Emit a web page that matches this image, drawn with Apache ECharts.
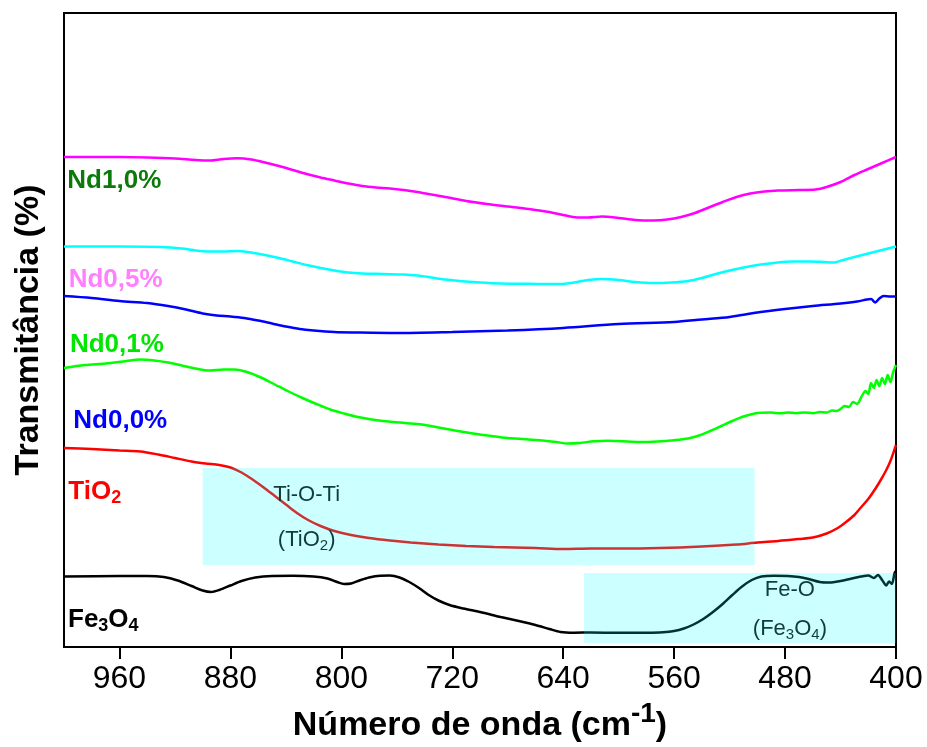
<!DOCTYPE html>
<html>
<head>
<meta charset="utf-8">
<script src="https://cdn.jsdelivr.net/npm/echarts@6/dist/echarts.min.js"></script>
<style>html,body{margin:0;padding:0;background:#fff}#c{width:927px;height:747px}</style>
</head>
<body>
<div id="c"></div>
<script>
// x tick labels (wavenumber, cm-1)
const xTicks = [400, 480, 560, 640, 720, 800, 880, 960];

// Spectra: [wavenumber, transmittance (arbitrary, offset)]
const nd10 = [[1000,490],[980,490],[960,490],[940,489.5],[920,488.5],[905,487],[895,486.5],[885,488],[875,488.7],[865,487.5],[855,484.5],[845,481],[835,477],[825,473],[815,469.5],[805,466.5],[795,463.5],[785,461],[775,459.5],[765,458.5],[755,457],[745,455],[735,452.5],[725,450],[710,446],[695,443],[680,440.5],[665,438],[650,435],[640,432],[630,429.5],[622,429.5],[612,430.5],[600,429],[588,427],[575,426.5],[565,427.5],[555,430],[545,434],[535,439.5],[525,445],[515,450],[505,453.5],[495,455.5],[485,456.5],[470,457],[458,457.5],[450,460],[440,465],[430,472],[420,478],[410,484],[400,490]];
const nd05 = [[1000,400.5],[960,400.5],[930,400],[915,398.5],[905,396.5],[895,395.5],[885,395.5],[875,396],[865,394.5],[855,392],[845,389],[835,385.5],[825,382],[815,379],[805,376.5],[795,374.5],[785,373.5],[770,373],[755,372.5],[745,371.5],[735,369.5],[725,367.5],[715,366],[700,364.5],[685,363.5],[670,363.3],[655,363],[642,363],[632,364.5],[622,367],[612,368],[600,367],[588,365],[575,364],[562,364.5],[550,366],[540,369],[530,373],[520,376.5],[510,379.5],[500,382],[488,384],[475,385.5],[462,385.5],[452,385],[445,384.5],[438,387],[430,390],[420,393.5],[410,397],[400,400.5]];
const nd00 = [[1000,351],[980,349],[960,346],[940,344],[925,341],[912,337.5],[900,333.5],[890,331.5],[880,330.5],[870,329],[860,326.5],[850,323.5],[840,320.5],[830,318],[820,316.5],[805,315],[790,314.5],[760,314],[720,315],[680,316.5],[640,319],[600,323],[560,325],[540,327.5],[520,330],[500,334.5],[480,338],[460,341],[440,343.5],[428,345.5],[421,347.5],[418,348],[415,344.5],[412,348.5],[409,351],[404,350.5],[400,350.5]];
const nd01 = [[1000,279],[985,282],[970,283.5],[955,286],[945,287.5],[935,286.5],[925,284.5],[915,281.5],[905,278.5],[895,276.5],[885,277.5],[877,277.5],[868,275],[858,269.5],[848,262.5],[838,255.5],[828,249],[818,243],[808,237.5],[798,233.5],[788,230],[778,227.5],[766,225.5],[754,224],[742,222.5],[730,219.5],[718,216.5],[705,213.5],[692,211],[680,209],[667,207.8],[655,206.5],[645,205],[637,203.5],[628,204],[618,205.8],[608,206.3],[598,205.8],[585,205],[572,205.5],[560,206.8],[550,208.5],[542,211.5],[534,216],[526,221],[518,226],[510,230.5],[500,234],[490,234.5],[484,233.7],[478,234.5],[472,233.8],[466,234.5],[460,233.8],[455,235],[450,234.5],[446,236.5],[443,236],[440,238],[437,241],[434,240],[431,245],[428,243],[425,250],[422,256],[420,253],[418,264],[416,259],[414,267],[412,261],[410,269],[408,263],[406,272],[404,265],[402,275],[400,282]];
const tio2 = [[1000,199],[980,198],[960,196.5],[945,195.5],[932,192.5],[920,189],[908,185.5],[898,183.5],[888,182],[880,179.5],[872,174.5],[864,167.5],[856,159.5],[848,151],[840,142.5],[832,134],[824,127],[815,121],[805,116],[793,112],[780,109],[765,106.5],[750,104.5],[730,102.5],[710,101],[690,100],[660,99],[640,98],[620,98.5],[600,98.5],[570,99],[540,100.5],[515,102.5],[500,104.5],[485,106],[470,108],[460,109.5],[450,113.5],[442,119],[436,125],[430,132],[425,140],[420,148],[415,158],[411,167],[407,177],[404,186],[402,193.7],[400,202]];
const fe3o4 = [[1000,70.5],[960,71],[940,71],[928,70],[918,66.5],[908,61],[900,56.5],[894,55],[888,57],[880,61.5],[872,66],[862,69.5],[850,71],[835,71.2],[820,70.5],[810,68.5],[803,65],[798,63],[793,63.5],[787,66.5],[780,69.5],[772,71.3],[765,71.5],[758,69.5],[751,65],[744,59],[737,52],[730,46.5],[722,42],[712,38.5],[700,35],[685,30],[672,26],[660,22],[650,18],[642,15],[632,14.3],[620,14.5],[600,14.2],[580,14.3],[568,14.8],[560,16],[553,18.5],[546,22.5],[539,28],[532,35],[525,43],[518,52],[511,60.5],[504,67],[497,70.5],[488,71.3],[478,71],[470,70],[463,68],[455,65],[448,64.5],[440,66],[432,68.5],[425,70.5],[420,71.5],[416,69],[413,72],[410,67],[407,61.5],[405,65.5],[403,63],[401,74],[400,76]];

// Highlighted bands: [x from, x to, y from, y to]
const bandTi = [900, 502, 82, 179];
const bandFe = [625, 400, 4, 74];

const seriesNames = ['Nd1,0%', 'Nd0,5%', 'Nd0,0%', 'Nd0,1%', 'TiO2', 'Fe3O4'];
const seriesColors = ['#ff00ff', '#00ffff', '#0000ff', '#00ff00', '#ff0000', '#000000'];
const seriesData = [nd10, nd05, nd00, nd01, tio2, fe3o4];

// Inline labels: [text (rich), x, y, color]
const sampleLabels = [
  ['Nd1,0%', 997.6, 466, '#0b7a0b'],
  ['Nd0,5%', 996.6, 367, '#ff80ff'],
  ['Nd0,1%', 995.7, 302, '#00e600'],
  ['Nd0,0%', 993.3, 226, '#0000ff'],
  ['TiO{s|2}', 996.9, 155, '#ff0000'],
  ['Fe{s|3}O{s|4}', 997.1, 27, '#000000']
];
const bandLabels = [
  ['Ti-O-Ti', 825, 152],
  ['(TiO{s|2})', 825, 107],
  ['Fe-O', 476.5, 57],
  ['(Fe{s|3}O{s|4})', 476.5, 18]
];

const chart = echarts.init(document.getElementById('c'));
const ff = 'Arial, "Liberation Sans", Helvetica, sans-serif';

const series = seriesData.map((d, i) => ({
  name: seriesNames[i],
  type: 'line',
  data: d,
  showSymbol: false,
  smooth: 0.3,
  lineStyle: { color: seriesColors[i], width: 2.5 },
  z: 2,
  silent: true
}));

series.push({
  type: 'line',
  data: [],
  z: 6,
  silent: true,
  markArea: {
    silent: true,
    z: 6,
    itemStyle: { color: 'rgba(0,255,255,0.2)' },
    data: [
      [{ coord: [bandTi[0], bandTi[2]] }, { coord: [bandTi[1], bandTi[3]] }],
      [{ coord: [bandFe[0], bandFe[2]] }, { coord: [bandFe[1], bandFe[3]] }]
    ]
  }
});

series.push({
  type: 'scatter',
  symbolSize: 0,
  z: 10,
  silent: true,
  itemStyle: { opacity: 1 },
  data: sampleLabels.map(l => ({
    value: [l[1], l[2]],
    label: {
      show: true,
      position: 'right',
      distance: 0,
      opacity: 1,
      formatter: l[0],
      color: l[3],
      fontFamily: ff,
      fontWeight: 'bold',
      fontSize: 26,
      lineHeight: 30,
      rich: { s: { fontSize: 18, lineHeight: 16, verticalAlign: 'bottom', fontWeight: 'bold', color: l[3], fontFamily: ff } }
    }
  }))
});

series.push({
  type: 'scatter',
  symbolSize: 0,
  z: 10,
  silent: true,
  itemStyle: { opacity: 1 },
  data: bandLabels.map(l => ({
    value: [l[1], l[2]],
    label: {
      show: true,
      position: 'inside',
      opacity: 1,
      formatter: l[0],
      color: '#123c3c',
      fontFamily: ff,
      fontSize: 22,
      lineHeight: 26,
      rich: { s: { fontSize: 15, lineHeight: 14, verticalAlign: 'bottom', color: '#123c3c', fontFamily: ff } }
    }
  }))
});

chart.setOption({
  animation: false,
  backgroundColor: '#ffffff',
  grid: { left: 64, right: 31, top: 13, bottom: 100, outerBoundsMode: 'none', containLabel: false, show: true, borderColor: '#000', borderWidth: 2, backgroundColor: 'transparent' },
  xAxis: {
    type: 'value',
    inverse: true,
    min: 400,
    max: 1000,
    interval: 80,
    name: '{a|Número de onda (cm}{sup|-1}{a|)}',
    nameLocation: 'middle',
    nameGap: 53,
    nameTextStyle: {
      rich: {
        a: { fontFamily: ff, fontWeight: 'bold', fontSize: 34, color: '#000', lineHeight: 52 },
        sup: { fontFamily: ff, fontWeight: 'bold', fontSize: 28, color: '#000', lineHeight: 12, verticalAlign: 'top' }
      }
    },
    axisLine: { show: true, onZero: false, lineStyle: { color: '#000', width: 2 } },
    axisTick: { show: true, inside: false, length: 12, customValues: xTicks, lineStyle: { color: '#000', width: 2 } },
    axisLabel: { customValues: xTicks, fontFamily: ff, fontSize: 32, color: '#000', margin: 16 },
    splitLine: { show: false }
  },
  yAxis: {
    type: 'value',
    min: 0,
    max: 634,
    name: 'Transmitância (%)',
    nameLocation: 'middle',
    nameGap: 18,
    nameTextStyle: { fontFamily: ff, fontWeight: 'bold', fontSize: 34, color: '#000' },
    axisLine: { show: true, lineStyle: { color: '#000', width: 2 } },
    axisTick: { show: false },
    axisLabel: { show: false },
    splitLine: { show: false }
  },
  series: series
});
</script>
</body>
</html>
